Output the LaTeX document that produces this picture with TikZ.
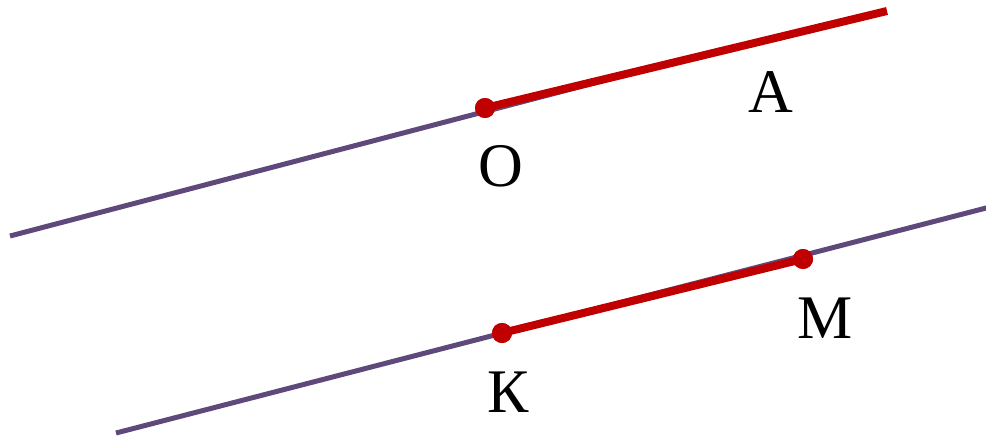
\documentclass[tikz,border=0pt]{standalone}
\usepackage{fontspec}
\setmainfont{Liberation Serif}
\definecolor{lineviolet}{HTML}{5F497A}
\definecolor{segred}{HTML}{C00000}
\tikzset{
  baseline/.style={draw=lineviolet, line width=5pt},
  segment/.style={draw=segred, line width=8pt},
  pointdot/.style={circle, fill=segred, inner sep=0pt, minimum size=20pt},
  lbl/.style={anchor=base, inner sep=0pt, font=\fontsize{62}{70}\selectfont}
}
\begin{document}
\begin{tikzpicture}[x=1pt, y=-1pt]
\useasboundingbox (0,0) rectangle (986,439);
% upper line
\coordinate (u1) at (10,236);
\coordinate (u2) at (720,50);
\coordinate (aend) at (887,11);
\node[pointdot] (O) at (485,108) {};
\draw[baseline] (u1) -- (u2);
\draw[segment] (O.center) -- (aend);
\node[pointdot] at (485,108) {};
% lower line
\coordinate (l1) at (116,433);
\coordinate (l2) at (990,207);
\draw[baseline] (l1) -- (l2);
\node[pointdot] (K) at (502,333) {};
\node[pointdot] (M) at (803,259) {};
\draw[segment] (K.center) -- (M.center);
\node[pointdot] at (502,333) {};
\node[pointdot] at (803,259) {};
% labels
\node[lbl] (lO) at (501,186) {О};
\node[lbl] (lA) at (771,112) {А};
\node[lbl] (lK) at (508,412) {К};
\node[lbl] (lM) at (825,338) {М};
\end{tikzpicture}
\end{document}
